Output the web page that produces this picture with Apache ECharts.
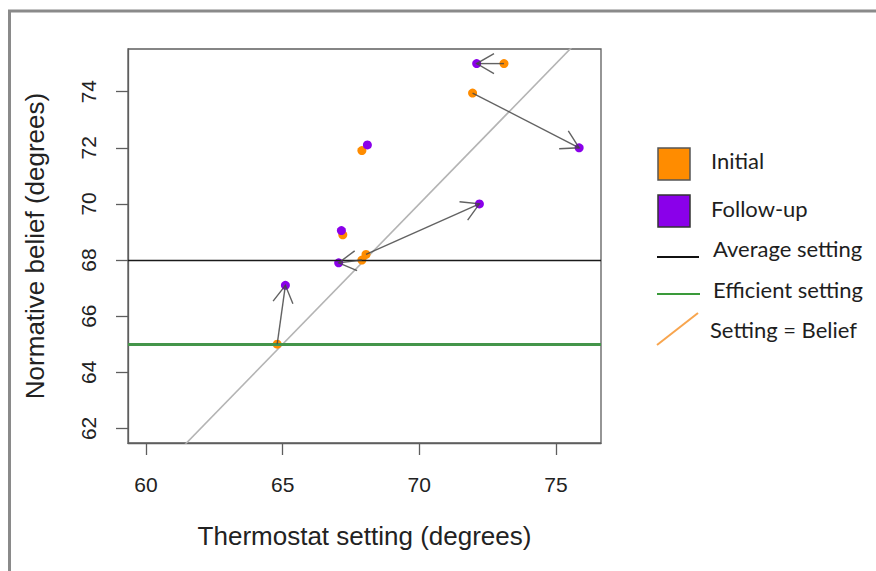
<!DOCTYPE html>
<html>
<head>
<meta charset="utf-8">
<script src="https://cdn.jsdelivr.net/npm/echarts@6/dist/echarts.min.js"></script>
<style>
  html, body { margin: 0; padding: 0; background: #fff; }
  #chart { width: 876px; height: 571px; }
</style>
</head>
<body>
<div id="chart"></div>
<script>
// Thermostat setting vs. normative belief, initial and follow-up surveys
const initialSetting = [73.1, 71.95, 68.05, 67.9, 64.8, 67.9, 67.2];
const initialBelief  = [75.0, 73.95, 68.2, 68.0, 65.0, 71.9, 68.9];
const followSetting  = [72.1, 75.85, 72.2, 67.05, 65.1, 68.1, 67.15];
const followBelief   = [75.0, 72.0, 70.0, 67.9, 67.1, 72.1, 69.05];

const averageSetting = 68;
const efficientSetting = 65;

const xTicks = [60, 65, 70, 75];
const yTicks = [62, 64, 66, 68, 70, 72, 74];

const legendLabels = ['Initial', 'Follow-up', 'Average setting', 'Efficient setting', 'Setting = Belief'];

const ORANGE = '#ff8c00';
const PURPLE = '#8a00ea';
const AXIS_FONT = '"Liberation Sans", Arial, sans-serif';
const LEGEND_FONT = 'Lato, "Open Sans", sans-serif';

const initialPts = initialSetting.map((x, i) => [x, initialBelief[i]]);
const followPts = followSetting.map((x, i) => [x, followBelief[i]]);
// arrows only where the answer moved noticeably
const arrowMin = 0.5;
const arrows = initialPts
  .map((p, i) => [p[0], p[1], followPts[i][0], followPts[i][1]])
  .filter(a => Math.hypot(a[2] - a[0], a[3] - a[1]) > arrowMin);

const chart = echarts.init(document.getElementById('chart'), null, { renderer: 'svg' });

function renderArrow(params, api) {
  const p0 = api.coord([api.value(0), api.value(1)]);
  const p1 = api.coord([api.value(2), api.value(3)]);
  const a = Math.atan2(p1[1] - p0[1], p1[0] - p0[0]);
  const L = 20, w = Math.PI / 6;
  const h1 = [p1[0] - L * Math.cos(a - w), p1[1] - L * Math.sin(a - w)];
  const h2 = [p1[0] - L * Math.cos(a + w), p1[1] - L * Math.sin(a + w)];
  const style = { stroke: 'rgba(70,70,70,0.85)', lineWidth: 1.4, fill: null };
  return {
    type: 'group',
    children: [
      { type: 'line', shape: { x1: p0[0], y1: p0[1], x2: p1[0], y2: p1[1] }, style },
      { type: 'polyline', shape: { points: [h1, p1, h2] }, style }
    ]
  };
}

const legendText = (x, y, text) => ({
  type: 'text', left: x, top: y - 14,
  style: { text, font: '22px ' + LEGEND_FONT, fill: '#1e1e1e' }
});

chart.setOption({
  animation: false,
  backgroundColor: '#fff',
  grid: {
    left: 128, top: 49, right: 275, bottom: 128,
    show: true, borderColor: '#5e5e5e', borderWidth: 1.3, backgroundColor: 'transparent'
  },
  xAxis: {
    type: 'value', min: 59.34, max: 76.65,
    name: 'Thermostat setting (degrees)', nameLocation: 'middle', nameGap: 80,
    nameTextStyle: { fontFamily: AXIS_FONT, fontSize: 26, color: '#222' },
    axisLine: { show: true, lineStyle: { color: '#5e5e5e', width: 1.3 } },
    axisTick: { show: true, length: 12, customValues: xTicks, lineStyle: { color: '#5e5e5e', width: 1.3 } },
    axisLabel: { customValues: xTicks, margin: 31, fontFamily: AXIS_FONT, fontSize: 21, color: '#222' },
    splitLine: { show: false }
  },
  yAxis: {
    type: 'value', min: 61.48, max: 75.52,
    name: 'Normative belief (degrees)', nameLocation: 'middle', nameGap: 80,
    nameTextStyle: { fontFamily: AXIS_FONT, fontSize: 26, color: '#222' },
    axisLine: { show: true, lineStyle: { color: '#5e5e5e', width: 1.3 } },
    axisTick: { show: true, length: 12, customValues: yTicks, lineStyle: { color: '#5e5e5e', width: 1.3 } },
    axisLabel: { customValues: yTicks, rotate: 90, margin: 29, fontFamily: AXIS_FONT, fontSize: 21, color: '#222' },
    splitLine: { show: false }
  },
  series: [
    {
      name: 'Setting = Belief', type: 'line', clip: true, z: 1,
      data: [[50, 50], [90, 90]], symbol: 'none',
      lineStyle: { color: '#b4b4b4', width: 1.6 },
      markLine: {
        silent: true, symbol: 'none', label: { show: false },
        data: [
          { yAxis: averageSetting, lineStyle: { color: '#1a1a1a', width: 1.4, type: 'solid' } },
          { yAxis: efficientSetting, lineStyle: { color: '#44954a', width: 2.8, type: 'solid' } }
        ]
      }
    },
    {
      name: 'Initial', type: 'scatter', z: 3, data: initialPts,
      symbolSize: 9, itemStyle: { color: ORANGE, opacity: 1 }
    },
    {
      name: 'Follow-up', type: 'scatter', z: 4, data: followPts,
      symbolSize: 9, itemStyle: { color: PURPLE, opacity: 1 }
    },
    {
      name: 'Change', type: 'custom', z: 5, data: arrows,
      encode: { x: [0, 2], y: [1, 3] }, renderItem: renderArrow
    }
  ],
  graphic: [
    // outer frame
    { type: 'rect', shape: { x: 9.5, y: 11, width: 900, height: 600 },
      style: { fill: null, stroke: '#8a8a8a', lineWidth: 3 }, z: 100 },
    // legend
    { type: 'rect', shape: { x: 658, y: 148, width: 32, height: 32 },
      style: { fill: ORANGE, stroke: '#555', lineWidth: 1.5 } },
    { type: 'rect', shape: { x: 658, y: 195, width: 32, height: 32 },
      style: { fill: PURPLE, stroke: '#333', lineWidth: 1.5 } },
    { type: 'line', shape: { x1: 657, y1: 257, x2: 699, y2: 257 },
      style: { stroke: '#111', lineWidth: 2 } },
    { type: 'line', shape: { x1: 657, y1: 294, x2: 700, y2: 294 },
      style: { stroke: '#3a9a3a', lineWidth: 2.2 } },
    { type: 'line', shape: { x1: 657, y1: 345, x2: 698, y2: 313 },
      style: { stroke: '#f8a54e', lineWidth: 2 } },
    legendText(711, 163, legendLabels[0]),
    legendText(711, 211, legendLabels[1]),
    legendText(713, 251, legendLabels[2]),
    legendText(713, 292, legendLabels[3]),
    legendText(710, 332, legendLabels[4])
  ]
});
</script>
</body>
</html>
